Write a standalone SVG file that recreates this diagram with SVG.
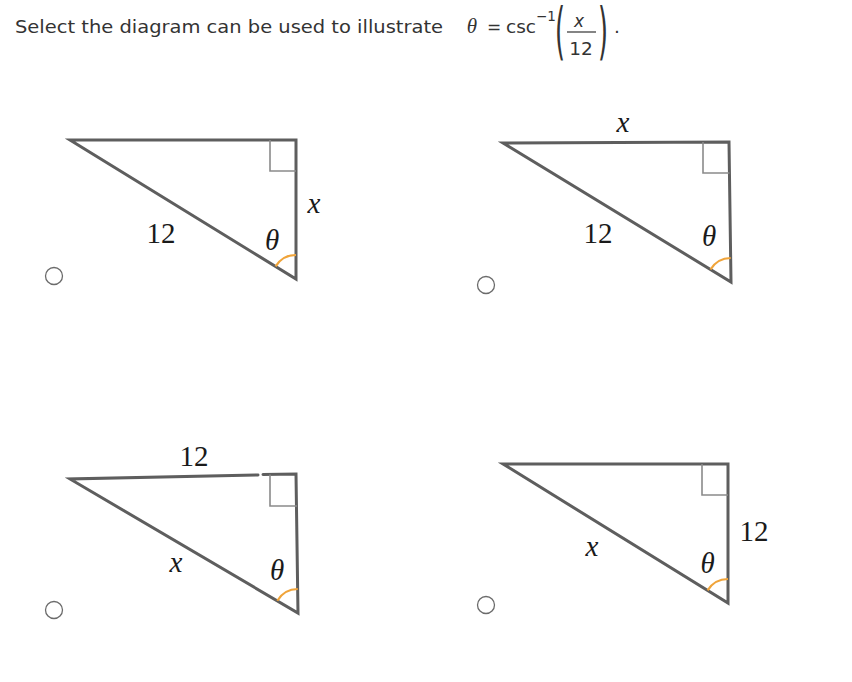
<svg xmlns="http://www.w3.org/2000/svg" width="852" height="682" viewBox="0 0 852 682">
<style>
.bg{fill:#ffffff}
.tri{fill:none;stroke:#5e5e5e;stroke-width:3;stroke-linejoin:miter;stroke-linecap:round}
.box{fill:none;stroke:#8a8a8a;stroke-width:1.6}
.arc{fill:none;stroke:#f0a43a;stroke-width:2.2}
.radio{fill:#ffffff;stroke:#6b6b6b;stroke-width:1.3}
.lab{font-family:"Liberation Serif","Times New Roman",serif;font-size:29px;fill:#1a1a1a;text-anchor:middle}
.it{font-style:italic}
.title{font-family:"DejaVu Sans",Verdana,sans-serif;font-size:18.5px;fill:#333333}
.mth{font-family:"DejaVu Sans",Verdana,sans-serif;fill:#333333}
</style>
<rect class="bg" x="0" y="0" width="852" height="682"/>

<g id="title">
<text class="title" x="15" y="33" textLength="428" lengthAdjust="spacingAndGlyphs">Select the diagram can be used to illustrate</text>
<text x="472" y="33" font-family="'Liberation Serif','Times New Roman',serif" font-style="italic" font-size="21" fill="#333333" text-anchor="middle">θ</text>
<text class="mth" x="494" y="33" font-size="17" text-anchor="middle">=</text>
<text class="mth" x="506" y="33" font-size="18.5">csc</text>
<text class="mth" x="536" y="21" font-size="13.5">−1</text>
<text class="mth" x="555" y="52" font-size="62" textLength="10" lengthAdjust="spacingAndGlyphs">(</text>
<text class="mth" x="579" y="27" font-size="17" font-style="italic" text-anchor="middle">x</text>
<line x1="567" y1="32" x2="596" y2="32" stroke="#333333" stroke-width="1.2"/>
<text class="mth" x="581" y="55" font-size="18.5" text-anchor="middle">12</text>
<text class="mth" x="598" y="52" font-size="62" textLength="10" lengthAdjust="spacingAndGlyphs">)</text>
<text class="mth" x="614" y="33" font-size="18.5">.</text>
</g>

<g id="option-a">
<circle class="radio" cx="54" cy="276" r="8.5"/>
<polygon class="tri" points="70,140 296,140 296,279"/>
<polyline class="box" points="270,140 270,171 296,171"/>
<path class="arc" d="M275.6,266.4 A24,24 0 0 1 296,255"/>
<text class="lab" x="161" y="243">12</text>
<text class="lab it" x="314" y="213">x</text>
<text class="lab it" x="272" y="250">θ</text>
</g>

<g id="option-b">
<circle class="radio" cx="486" cy="285" r="8.5"/>
<polygon class="tri" points="503,143 729,142 731,282"/>
<polyline class="box" points="703,142 703,173 729.5,173"/>
<path class="arc" d="M710.5,269.5 A24,24 0 0 1 730.7,258"/>
<text class="lab it" x="623" y="132">x</text>
<text class="lab" x="598" y="243">12</text>
<text class="lab it" x="709" y="246">θ</text>
</g>

<g id="option-c">
<circle class="radio" cx="54" cy="610" r="8.5"/>
<polyline class="tri" points="258,475 70,479 298,613 296,474 263,474.5"/>
<polyline class="box" points="270,474.5 270,506 297,506"/>
<path class="arc" d="M277.3,600.8 A24,24 0 0 1 297.8,589"/>
<text class="lab" x="194" y="466">12</text>
<text class="lab it" x="176" y="572">x</text>
<text class="lab it" x="277" y="580">θ</text>
</g>

<g id="option-d">
<circle class="radio" cx="486" cy="605" r="8.5"/>
<polygon class="tri" points="503,464 728,464 728,603"/>
<polyline class="box" points="702,464 702,495 728,495"/>
<path class="arc" d="M707.6,590.4 A24,24 0 0 1 728,579"/>
<text class="lab" x="754" y="541">12</text>
<text class="lab it" x="592" y="556">x</text>
<text class="lab it" x="707.5" y="573">θ</text>
</g>

<g id="connectors"></g>
</svg>
